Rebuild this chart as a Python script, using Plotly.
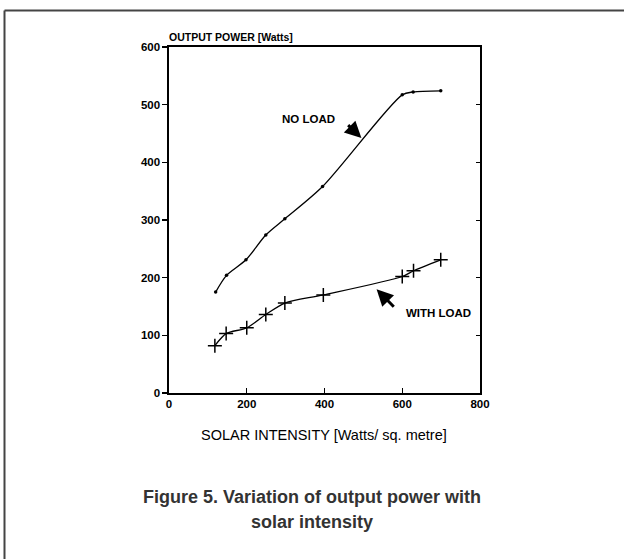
import plotly.graph_objects as go

# Data
no_load_x = [120, 148, 198, 249, 298, 395, 600, 628, 699]
no_load_y = [175, 204, 231, 274, 302, 358, 517, 522, 524]

with_load_x = [118, 147, 200, 249, 298, 397, 600, 629, 699]
with_load_y = [82, 103, 113, 136, 156, 170, 202, 212, 231]

x_ticks = [0, 200, 400, 600, 800]
y_ticks = [0, 100, 200, 300, 400, 500, 600]

FONT = "Liberation Sans, Arial, sans-serif"

fig = go.Figure()
fig.add_trace(go.Scatter(
    x=no_load_x, y=no_load_y, mode="lines+markers",
    line=dict(color="black", width=1.3, shape="spline", smoothing=0.8),
    marker=dict(symbol="circle", size=3.5, color="black"),
    showlegend=False, hoverinfo="skip"))
fig.add_trace(go.Scatter(
    x=with_load_x, y=with_load_y, mode="lines+markers",
    line=dict(color="black", width=1.3, shape="spline", smoothing=0.8),
    marker=dict(symbol="cross-thin", size=10, color="black",
                line=dict(color="black", width=1.5)),
    showlegend=False, hoverinfo="skip"))
# invisible trace to anchor right-side tick axis
fig.add_trace(go.Scatter(x=[0], y=[0], yaxis="y2", mode="markers",
                         marker=dict(opacity=0), showlegend=False, hoverinfo="skip"))

fig.update_layout(
    width=624, height=559,
    margin=dict(l=169, r=144, t=47, b=166),
    paper_bgcolor="white", plot_bgcolor="white",
    font=dict(family=FONT, color="black"),
    xaxis=dict(range=[0, 800], tickvals=x_ticks, ticktext=[str(v) for v in x_ticks],
               showgrid=False, zeroline=False, showline=True, linecolor="black",
               linewidth=1.6, mirror=True, ticks="inside", ticklen=5, tickwidth=1.2,
               tickcolor="black", tickfont=dict(size=11.5, weight="bold"),
               fixedrange=True),
    yaxis=dict(range=[0, 600], tickvals=y_ticks, ticktext=[str(v) for v in y_ticks],
               showgrid=False, zeroline=False, showline=True, linecolor="black",
               linewidth=1.6, mirror=True, ticks="outside", ticklen=5, tickwidth=1.2,
               tickcolor="black", tickfont=dict(size=11.5, weight="bold"),
               fixedrange=True),
    yaxis2=dict(range=[0, 600], overlaying="y", side="right", tickvals=y_ticks,
                showticklabels=False, ticks="inside", ticklen=4, tickwidth=1,
                tickcolor="black", showgrid=False, zeroline=False, showline=False,
                fixedrange=True),
)

def px_x(px):
    return (px - 169) / 311.0

def px_y(py):
    return (393 - py) / 346.0

annotations = [
    dict(x=px_x(167), y=px_y(37), xref="paper", yref="paper", xanchor="left",
         yanchor="middle", text="OUTPUT POWER [Watts]", showarrow=False,
         font=dict(size=10.5, weight="bold")),
    dict(x=px_x(324), y=px_y(435), xref="paper", yref="paper", xanchor="center",
         yanchor="middle", text="SOLAR INTENSITY [Watts/ sq. metre]", showarrow=False,
         font=dict(size=14.5)),
    dict(x=360, y=476, xref="x", yref="y", text="NO LOAD", showarrow=False,
         font=dict(size=11.5, weight="bold"), xanchor="center", yanchor="middle"),
    dict(x=693, y=139, xref="x", yref="y", text="WITH LOAD", showarrow=False,
         font=dict(size=11.5, weight="bold"), xanchor="center", yanchor="middle"),
    dict(x=495, y=442, ax=457, ay=467, xref="x", yref="y", axref="x", ayref="y",
         text="", showarrow=True, arrowhead=2, arrowsize=1.1, arrowwidth=3,
         arrowcolor="black"),
    dict(x=534, y=180, ax=582, ay=147, xref="x", yref="y", axref="x", ayref="y",
         text="", showarrow=True, arrowhead=2, arrowsize=1.1, arrowwidth=3,
         arrowcolor="black"),
    dict(x=px_x(312), y=px_y(497), xref="paper", yref="paper", xanchor="center",
         yanchor="middle", text="Figure 5. Variation of output power with",
         showarrow=False, font=dict(size=18, weight="bold", color="#333333")),
    dict(x=px_x(312), y=px_y(522), xref="paper", yref="paper", xanchor="center",
         yanchor="middle", text="solar intensity",
         showarrow=False, font=dict(size=18, weight="bold", color="#333333")),
]
fig.update_layout(annotations=annotations)

# outer frame (top and left edges visible in the reference)
fig.add_shape(type="line", xref="paper", yref="paper",
              x0=px_x(4.5), y0=px_y(10.5), x1=px_x(630), y1=px_y(10.5),
              line=dict(color="#444444", width=2))
fig.add_shape(type="line", xref="paper", yref="paper",
              x0=px_x(4.5), y0=px_y(10.5), x1=px_x(4.5), y1=px_y(565),
              line=dict(color="#444444", width=2))

fig.write_html(
    "out.html",
    config={"displayModeBar": False, "staticPlot": True},
    post_script="document.body.style.margin='0';document.body.style.padding='0';"
                "document.documentElement.style.overflow='hidden';",
)
